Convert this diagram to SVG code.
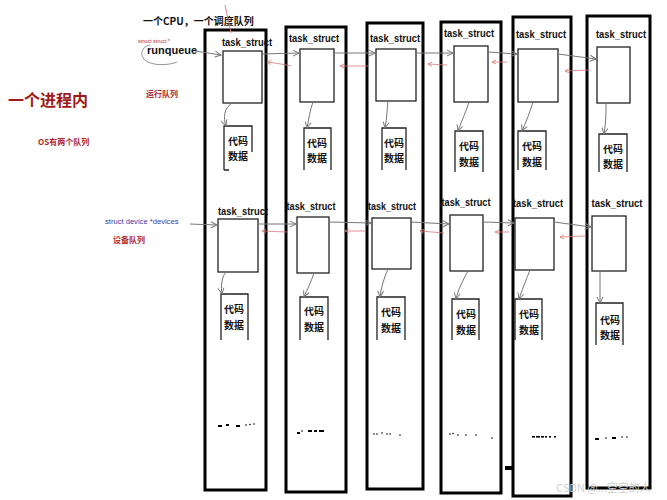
<svg xmlns="http://www.w3.org/2000/svg" width="667" height="500" viewBox="0 0 667 500">
<defs>
<marker id="ag" markerWidth="8" markerHeight="8" refX="7" refY="4" orient="auto" markerUnits="userSpaceOnUse"><path d="M1,1 L7,4 L1,7" fill="none" stroke="#777" stroke-width="1"/></marker>
<marker id="ar" markerWidth="6" markerHeight="6" refX="5" refY="3" orient="auto" markerUnits="userSpaceOnUse"><path d="M1,1 L5,3 L1,5" fill="none" stroke="#d87878" stroke-width="0.8"/></marker>
</defs>
<style>
.col{fill:#fff;stroke:#000;stroke-width:3}
.inner{fill:#fff;stroke:#222;stroke-width:1.3}
.code{fill:none;stroke:#222;stroke-width:1.3}
.ts{font-family:"Liberation Sans",Arial,sans-serif;font-weight:bold;font-size:10.5px;fill:#111;text-anchor:middle}
.cj{font-family:"Noto Sans CJK SC",sans-serif;font-weight:bold;font-size:10px;fill:#111;text-anchor:middle}
.g{fill:none;stroke:#777;stroke-width:1;marker-end:url(#ag)}
.r{fill:none;stroke:#d87878;stroke-width:0.8;marker-end:url(#ar)}
.dot{fill:#000}
</style>
<rect width="667" height="500" fill="#fff"/>

<g id="labels">
<text x="143" y="25" font-family="Noto Sans CJK SC,sans-serif" font-weight="bold" font-size="10" fill="#111">一个CPU，一个调度队列</text>
<text x="138" y="43" font-family="Liberation Sans,Arial,sans-serif" font-size="5.5" fill="#c03030">struct struct *</text>
<text x="147" y="54" font-family="Liberation Sans,Arial,sans-serif" font-weight="bold" font-size="11" fill="#111">runqueue</text>
<path d="M150,45 C140,47 139,58 148,62 C156,66 170,65 177,62" fill="none" stroke="#888" stroke-width="0.9"/>
<text x="8" y="106" font-family="Noto Sans CJK SC,sans-serif" font-weight="bold" font-size="16" fill="#a01818">一个进程内</text>
<text x="146" y="97" font-family="Noto Sans CJK SC,sans-serif" font-weight="bold" font-size="8" fill="#b02828">运行队列</text>
<text x="38" y="145" font-family="Noto Sans CJK SC,sans-serif" font-weight="bold" font-size="8" fill="#b02828">OS有两个队列</text>
<text x="105" y="224" font-family="Liberation Sans,Arial,sans-serif" font-size="7.6" fill="#3a3aa8">struct device *devices</text>
<text x="113" y="243" font-family="Noto Sans CJK SC,sans-serif" font-weight="bold" font-size="8" fill="#b02828">设备队列</text>
</g>

<g id="col1">
<rect class="col" x="205" y="30" width="61" height="460"/>
<text class="ts" x="247" y="46" textLength="50" lengthAdjust="spacingAndGlyphs">task_struct</text>
<rect class="inner" x="223" y="51" width="39" height="52"/>
<path class="code" d="M224,170 L224,126 L252,126 L252,152 M224,170 L229,170"/>
<text class="cj" x="238" y="145">代码</text><text class="cj" x="238" y="160">数据</text>
<text class="ts" x="243" y="215" textLength="50" lengthAdjust="spacingAndGlyphs">task_struct</text>
<rect class="inner" x="218" y="219" width="40" height="53"/>
<path class="code" d="M221,340 L221,294 L248,294 L248,340"/>
<text class="cj" x="234" y="313">代码</text><text class="cj" x="234" y="329">数据</text>
<g class="dot"><rect x="218" y="425" width="4" height="2"/><rect x="226" y="424" width="3" height="2"/><rect x="236" y="425" width="4" height="2"/><circle cx="246" cy="425" r="0.8"/><circle cx="250" cy="424.5" r="0.8"/><circle cx="254" cy="424" r="0.8"/></g>
</g>

<g id="col2">
<rect class="col" x="286" y="27" width="60" height="465"/>
<text class="ts" x="314" y="42" textLength="50" lengthAdjust="spacingAndGlyphs">task_struct</text>
<rect class="inner" x="300" y="49" width="34" height="53"/>
<path class="code" d="M304,170 L304,128 L331,128 L331,170"/>
<text class="cj" x="317" y="147">代码</text><text class="cj" x="317" y="162">数据</text>
<text class="ts" x="311" y="210" textLength="49" lengthAdjust="spacingAndGlyphs">task_struct</text>
<rect class="inner" x="297" y="217" width="32" height="56"/>
<path class="code" d="M300,340 L300,297 L328,297 L328,340"/>
<text class="cj" x="314" y="315">代码</text><text class="cj" x="314" y="331">数据</text>
<g class="dot"><rect x="297" y="432" width="3" height="2"/><circle cx="302" cy="431" r="0.8"/><rect x="308" y="430" width="4" height="2"/><rect x="314" y="430" width="3" height="2"/><rect x="319" y="430" width="5" height="2"/></g>
</g>

<g id="col3">
<rect class="col" x="367" y="23" width="56" height="466"/>
<text class="ts" x="395" y="42" textLength="50" lengthAdjust="spacingAndGlyphs">task_struct</text>
<rect class="inner" x="376" y="49" width="40" height="52"/>
<path class="code" d="M382,170 L382,128 L406,128 L406,170"/>
<text class="cj" x="394" y="147">代码</text><text class="cj" x="394" y="162">数据</text>
<text class="ts" x="392" y="210" textLength="48" lengthAdjust="spacingAndGlyphs">task_struct</text>
<rect class="inner" x="372" y="218" width="39" height="51"/>
<path class="code" d="M377,340 L377,297 L405,297 L405,340"/>
<text class="cj" x="391" y="316">代码</text><text class="cj" x="391" y="332">数据</text>
<g class="dot"><circle cx="374" cy="434" r="0.8"/><circle cx="377" cy="434" r="0.8"/><circle cx="382" cy="433" r="0.8"/><circle cx="387" cy="434" r="0.8"/><circle cx="390" cy="434" r="0.8"/><circle cx="400" cy="435" r="0.8"/></g>
</g>

<g id="col4">
<rect class="col" x="441" y="22" width="60" height="471"/>
<text class="ts" x="469" y="37" textLength="50" lengthAdjust="spacingAndGlyphs">task_struct</text>
<rect class="inner" x="454" y="46" width="34" height="56"/>
<path class="code" d="M455,172 L455,131 L483,131 L483,172"/>
<text class="cj" x="469" y="150">代码</text><text class="cj" x="469" y="166">数据</text>
<text class="ts" x="466" y="206" textLength="49" lengthAdjust="spacingAndGlyphs">task_struct</text>
<rect class="inner" x="450" y="215" width="33" height="56"/>
<path class="code" d="M452,340 L452,299 L479,299 L479,340"/>
<text class="cj" x="466" y="318">代码</text><text class="cj" x="466" y="334">数据</text>
<g class="dot"><circle cx="450" cy="434" r="0.8"/><circle cx="453" cy="433.5" r="0.8"/><circle cx="458" cy="435" r="0.8"/><circle cx="466" cy="435" r="0.8"/><circle cx="476" cy="435" r="0.8"/><circle cx="492" cy="438" r="0.8"/></g>
</g>

<g id="col5">
<rect class="col" x="513" y="17" width="58" height="479"/>
<text class="ts" x="541" y="38" textLength="50" lengthAdjust="spacingAndGlyphs">task_struct</text>
<rect class="inner" x="518" y="49" width="40" height="53"/>
<path class="code" d="M518,170 L518,131 L546,131 L546,170"/>
<text class="cj" x="532" y="150">代码</text><text class="cj" x="532" y="166">数据</text>
<text class="ts" x="538" y="207" textLength="50" lengthAdjust="spacingAndGlyphs">task_struct</text>
<rect class="inner" x="515" y="218" width="39" height="52"/>
<path class="code" d="M515,340 L515,299 L542,299 L542,340"/>
<text class="cj" x="529" y="318">代码</text><text class="cj" x="529" y="334">数据</text>
<g class="dot"><rect x="532" y="436" width="3" height="1.6"/><rect x="536" y="436" width="4" height="1.6"/><rect x="541" y="436" width="3" height="1.6"/><rect x="545" y="436" width="2" height="1.6"/><rect x="549" y="436" width="2" height="1.6"/><rect x="554" y="436" width="2" height="1.6"/></g>
</g>

<g id="col6">
<rect class="col" x="587" y="16" width="63" height="472"/>
<text class="ts" x="621" y="38" textLength="50" lengthAdjust="spacingAndGlyphs">task_struct</text>
<rect class="inner" x="597" y="47" width="33" height="56"/>
<path class="code" d="M599,172 L599,134 L627,134 L627,172"/>
<text class="cj" x="613" y="153">代码</text><text class="cj" x="613" y="168">数据</text>
<text class="ts" x="617" y="207" textLength="51" lengthAdjust="spacingAndGlyphs">task_struct</text>
<rect class="inner" x="592" y="216" width="34" height="55"/>
<path class="code" d="M596,345 L596,303 L623,303 L623,345"/>
<text class="cj" x="610" y="324">代码</text><text class="cj" x="610" y="339">数据</text>
<g class="dot"><rect x="595" y="438" width="4" height="2"/><circle cx="606" cy="438" r="0.8"/><rect x="612" y="437" width="4" height="2"/><circle cx="622" cy="437" r="0.8"/><circle cx="627" cy="437" r="0.8"/></g>
</g>

<g id="connectors">
<path class="g" d="M195,51 L221,55"/>
<path class="g" d="M262,54 L299,53"/>
<path class="g" d="M334,53 L375,53"/>
<path class="g" d="M416,53 L453,53"/>
<path class="g" d="M488,52 L517,54"/>
<path class="g" d="M558,54 L596,59"/>
<path class="r" d="M291,66 C282,64 275,63 267,62"/>
<path class="r" d="M368,66 L340,66"/>
<path class="r" d="M447,65 L428,64"/>
<path class="r" d="M507,62 L492,62"/>
<path class="r" d="M590,70 L565,71"/>
<path d="M225,5 L231,33" fill="none" stroke="#d87878" stroke-width="0.9"/>
<path class="g" d="M232,103 C224,108 223,118 226,126"/>
<path class="g" d="M313,102 C310,110 309,118 307,128"/>
<path class="g" d="M388,101 C387,110 387,118 385,128"/>
<path class="g" d="M469,102 C466,112 461,122 458,131"/>
<path class="g" d="M533,102 C530,112 526,122 522,131"/>
<path class="g" d="M606,103 C606,114 606,122 604,134"/>
<path class="g" d="M190,224 L217,225"/>
<path class="g" d="M258,224 L296,224"/>
<path class="g" d="M329,222 L371,223"/>
<path class="g" d="M411,222 L449,224"/>
<path class="g" d="M483,222 L514,223"/>
<path class="g" d="M554,222 L591,227"/>
<path class="r" d="M287,232 L262,231"/>
<path class="r" d="M365,231 L345,231"/>
<path class="r" d="M444,233 L420,231"/>
<path class="r" d="M509,232 L495,232"/>
<path class="r" d="M585,236 L560,237"/>
<path class="g" d="M226,272 C221,278 221,288 222,294"/>
<path class="g" d="M314,273 C311,282 307,290 304,297"/>
<path class="g" d="M388,269 C384,278 381,288 380,297"/>
<path class="g" d="M468,271 C463,280 458,290 456,299"/>
<path class="g" d="M530,270 C526,280 522,290 519,299"/>
<path class="g" d="M600,271 C600,282 600,292 600,303"/>
<rect x="505" y="466" width="8" height="4" fill="#000"/>
</g>

<text x="556" y="492" font-family="Noto Sans CJK SC,sans-serif" font-size="11" fill="#d0d0d0">CSDN @...空空的人</text>
</svg>
